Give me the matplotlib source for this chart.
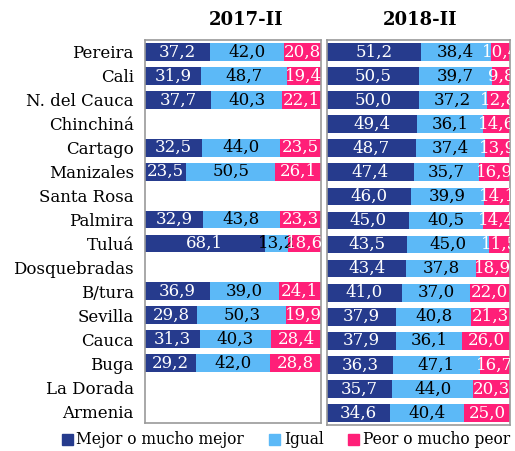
import matplotlib.pyplot as plt
import numpy as np
from matplotlib.patches import Patch

plt.rcParams['font.family'] = ['DejaVu Serif']

ciudades = ["Pereira", "Cali", "N. del Cauca", "Chinchiná", "Cartago", "Manizales",
            "Santa Rosa", "Palmira", "Tuluá", "Dosquebradas", "B/tura", "Sevilla",
            "Cauca", "Buga", "La Dorada", "Armenia"]

nan = np.nan
mejor_2017 = [37.2, 31.9, 37.7, nan, 32.5, 23.5, nan, 32.9, 68.1, nan, 36.9, 29.8, 31.3, 29.2, nan, nan]
igual_2017 = [42.0, 48.7, 40.3, nan, 44.0, 50.5, nan, 43.8, 13.2, nan, 39.0, 50.3, 40.3, 42.0, nan, nan]
peor_2017 = [20.8, 19.4, 22.1, nan, 23.5, 26.1, nan, 23.3, 18.6, nan, 24.1, 19.9, 28.4, 28.8, nan, nan]

mejor_2018 = [51.2, 50.5, 50.0, 49.4, 48.7, 47.4, 46.0, 45.0, 43.5, 43.4, 41.0, 37.9, 37.9, 36.3, 35.7, 34.6]
igual_2018 = [38.4, 39.7, 37.2, 36.1, 37.4, 35.7, 39.9, 40.5, 45.0, 37.8, 37.0, 40.8, 36.1, 47.1, 44.0, 40.4]
peor_2018 = [10.4, 9.8, 12.8, 14.6, 13.9, 16.9, 14.1, 14.4, 11.5, 18.9, 22.0, 21.3, 26.0, 16.7, 20.3, 25.0]

series = ["Mejor o mucho mejor", "Igual", "Peor o mucho peor"]
colores = ["#263B8D", "#5CB9F7", "#FF1F78"]
texto_col = ["white", "black", "white"]

W, H = 515, 451
fig = plt.figure(figsize=(W / 100, H / 100), dpi=100)

def panel(rect, datos):
    ax = fig.add_axes(rect)
    y = np.arange(len(ciudades))
    left = np.zeros(len(ciudades))
    for vals, c, tc in zip(datos, colores, texto_col):
        vals = np.array(vals, dtype=float)
        v = np.nan_to_num(vals)
        ax.barh(y, v, left=left, height=0.74, color=c, linewidth=0)
        for yi, (val, l) in enumerate(zip(vals, left)):
            if not np.isnan(val):
                ax.text(l + val / 2, yi, f"{val:.1f}".replace(".", ","), ha="center",
                        va="center", color=tc, fontsize=12, clip_on=True)
        left = left + v
    ax.set_xlim(0, 100)
    ax.set_ylim(len(ciudades) - 0.5, -0.5)
    ax.set_xticks([])
    ax.set_yticks([])
    for s in ax.spines.values():
        s.set_color("#9a9a9a")
        s.set_linewidth(1.2)
    return ax

ax1 = panel([145 / W, 28 / H, 176 / W, 383 / H], [mejor_2017, igual_2017, peor_2017])
ax1.set_yticks(np.arange(len(ciudades)))
ax1.set_yticklabels(ciudades, fontsize=12)
ax1.tick_params(axis="y", length=0, pad=8)
ax2 = panel([327 / W, 26 / H, 183 / W, 385 / H], [mejor_2018, igual_2018, peor_2018])

fig.text(246 / W, 1 - 20 / H, "2017-II", ha="center", va="center", fontsize=13, fontweight="bold")
fig.text(420 / W, 1 - 20 / H, "2018-II", ha="center", va="center", fontsize=13, fontweight="bold")

handles = [Patch(color=c, label=s) for c, s in zip(colores, series)]
fig.legend(handles=handles, loc="center", bbox_to_anchor=(286 / W, 1 - 440 / H), ncol=3,
           frameon=False, fontsize=11.2, handlelength=0.7, handleheight=0.7,
           handletextpad=0.25, columnspacing=1.6, borderpad=0)

fig.savefig("out.png", dpi=100)
